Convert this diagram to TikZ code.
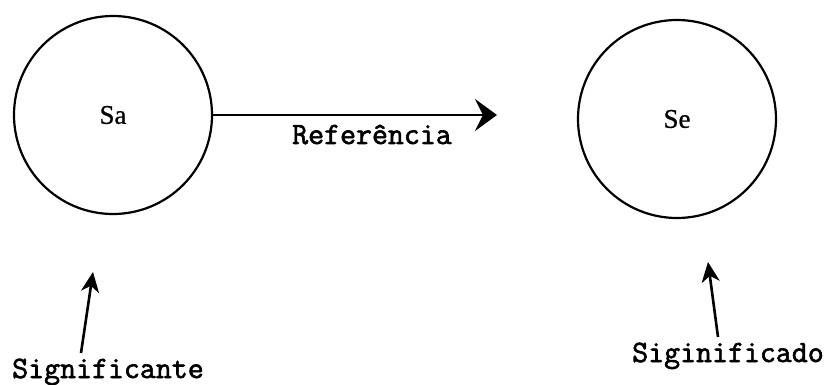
\documentclass[tikz,border=0pt]{standalone}
\usepackage{fontspec}
\newfontfamily\serifb{Liberation Serif}[FakeBold=0.8]
\newfontfamily\ttbold{Latin Modern Mono}[FakeBold=2]
\usetikzlibrary{arrows.meta}
\begin{document}
\begin{tikzpicture}[x=1pt,y=-1pt,
  ring/.style={circle,draw,line width=2.2pt,minimum size=198pt,inner sep=0pt,font=\serifb\fontsize{27}{27}\selectfont},
  lbl/.style={font=\ttbold\fontsize{31}{31}\selectfont,anchor=base,inner sep=0pt},
  arr/.style={line width=2.6pt,-{Stealth[length=20pt,width=18pt,inset=6pt]}}]
\useasboundingbox (0,0) rectangle (830,385);
\node[ring] (sa) at (113,115) {Sa};
\node[ring] (se) at (677,119) {Se};
\coordinate (reftip) at (497,115);
\draw[line width=2.4pt,-{Stealth[length=22pt,width=32pt,inset=8pt]}] (sa.east) -- (reftip);
\node[lbl] (ref) at (372,144) {Referência};
\node[lbl] (sig) at (108,378) {Significante};
\node[lbl] (sigdo) at (728,362) {Siginificado};
\coordinate (t1) at (81,353);
\coordinate (h1) at (93,272);
\coordinate (t2) at (718,337);
\coordinate (h2) at (708,262);
\draw[arr] (t1) -- (h1);
\draw[arr] (t2) -- (h2);
\end{tikzpicture}
\end{document}
